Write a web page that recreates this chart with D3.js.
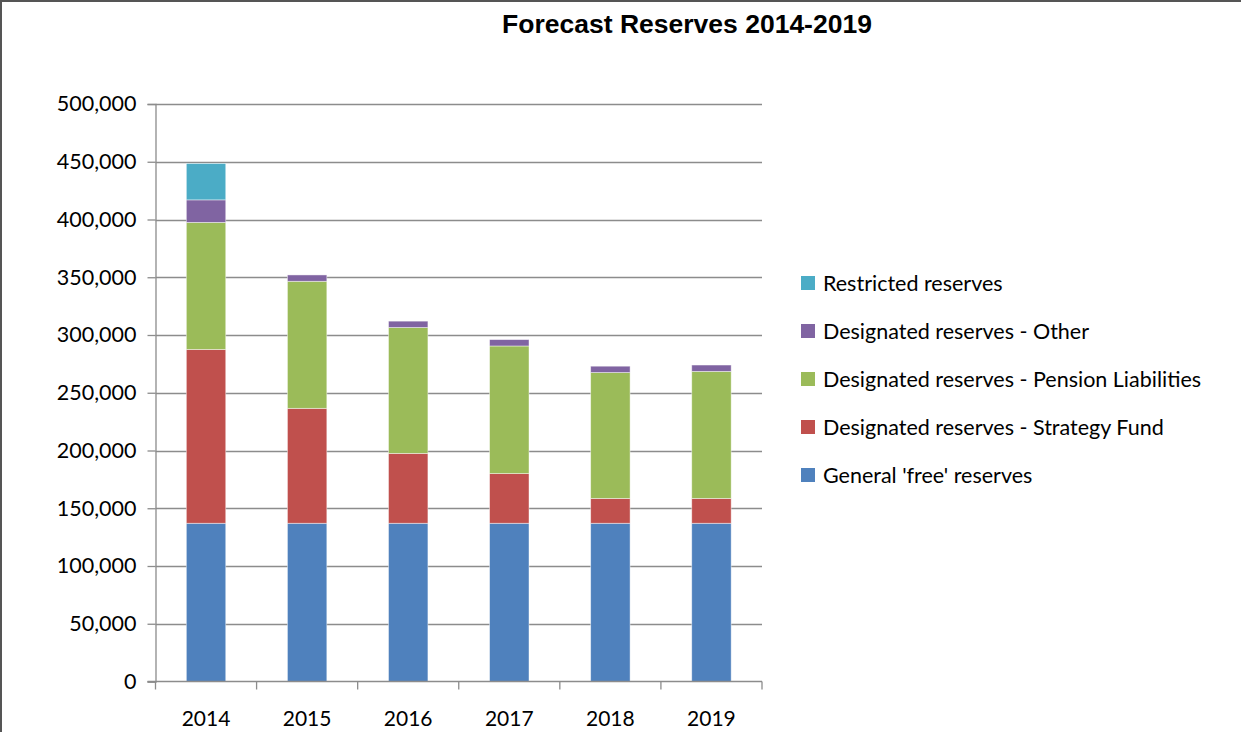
<!DOCTYPE html>
<html>
<head>
<meta charset="utf-8">
<script src="https://cdn.jsdelivr.net/npm/d3@7"></script>
<style>
  html, body { margin: 0; padding: 0; background: #fff; }
  svg { display: block; }
</style>
</head>
<body>
<svg id="chart" width="1241" height="732"></svg>
<script>
// Forecast reserves by year, stacked from the bottom up
const years = ["2014", "2015", "2016", "2017", "2018", "2019"];
const generalFree   = [137000, 137000, 137000, 137000, 137000, 137000];
const strategyFund  = [150500,  99500,  60500,  43000,  21500,  21500];
const pensionLiab   = [110000, 110000, 109000, 110500, 109000, 110000];
const otherDesig    = [ 19500,   5500,   5500,   5500,   5500,   5500];
const restricted    = [ 31500,      0,      0,      0,      0,      0];

const seriesNames = [
  "General 'free' reserves",
  "Designated reserves - Strategy Fund",
  "Designated reserves - Pension Liabilities",
  "Designated reserves - Other",
  "Restricted reserves"
];
const seriesColors = ["#4F81BD", "#C0504D", "#9BBB59", "#8064A2", "#4BACC6"];
const yTicks = [0, 50000, 100000, 150000, 200000, 250000, 300000, 350000, 400000, 450000, 500000];

const rows = years.map((y, i) => ({
  year: y,
  s0: generalFree[i],
  s1: strategyFund[i],
  s2: pensionLiab[i],
  s3: otherDesig[i],
  s4: restricted[i]
}));
const keys = ["s0", "s1", "s2", "s3", "s4"];
const stacked = d3.stack().keys(keys)(rows);

const svg = d3.select("#chart");
const W = 1241, H = 732;
const plot = { left: 155.5, right: 762, top: 104, bottom: 681.5 };

const font = "Lato, 'Open Sans', sans-serif";
const labelSize = 21.5;

// outer frame
svg.append("path")
  .attr("d", `M1,${H} V1 H${W}`)
  .attr("fill", "none")
  .attr("stroke", "#555")
  .attr("stroke-width", 2);

// title
svg.append("text")
  .attr("x", 687)
  .attr("y", 33)
  .attr("text-anchor", "middle")
  .attr("font-family", "'Liberation Sans', Arial, sans-serif")
  .attr("font-weight", "bold")
  .attr("font-size", 26.5)
  .attr("fill", "#000")
  .text("Forecast Reserves 2014-2019");

const x = d3.scaleBand().domain(years).range([plot.left, plot.right]).paddingInner(0.61).paddingOuter(0.305);
const y = d3.scaleLinear().domain([0, 500000]).range([plot.bottom, plot.top]);

// horizontal gridlines
svg.append("g")
  .selectAll("line")
  .data(yTicks.filter(t => t > 0))
  .join("line")
  .attr("x1", plot.left)
  .attr("x2", plot.right)
  .attr("y1", d => Math.round(y(d)) + 0.5)
  .attr("y2", d => Math.round(y(d)) + 0.5)
  .attr("stroke", "#8c8c8c")
  .attr("stroke-width", 1.3);

// bars
svg.append("g")
  .selectAll("g")
  .data(stacked)
  .join("g")
  .attr("fill", (d, i) => seriesColors[i])
  .selectAll("rect")
  .data(d => d.filter(p => p[1] > p[0]))
  .join("rect")
  .attr("x", d => x(d.data.year))
  .attr("width", x.bandwidth())
  .attr("y", d => y(d[1]))
  .attr("height", d => y(d[0]) - y(d[1]))
  .attr("stroke", "rgba(255,255,255,0.55)")
  .attr("stroke-width", 0.8);

// y axis
const yAxis = d3.axisLeft(y)
  .tickValues(yTicks)
  .tickSize(8)
  .tickPadding(11)
  .tickFormat(d3.format(","));
const gy = svg.append("g")
  .attr("transform", `translate(${plot.left},0)`)
  .call(yAxis);
gy.select(".domain").attr("stroke", "#8c8c8c").attr("stroke-width", 1.3);
gy.selectAll(".tick line").attr("stroke", "#8c8c8c").attr("stroke-width", 1.3);
gy.selectAll(".tick text")
  .attr("font-family", font)
  .attr("font-size", labelSize)
  .attr("fill", "#000");

// x axis: ticks sit on the category boundaries
const gx = svg.append("g")
  .attr("transform", `translate(0,${plot.bottom})`);
gx.append("line")
  .attr("x1", plot.left - 8).attr("x2", plot.right)
  .attr("y1", 0).attr("y2", 0)
  .attr("stroke", "#8c8c8c").attr("stroke-width", 1.3);
const bounds = d3.range(years.length + 1).map(i => plot.left + i * (plot.right - plot.left) / years.length);
gx.selectAll("line.tk")
  .data(bounds)
  .join("line")
  .attr("class", "tk")
  .attr("x1", d => d).attr("x2", d => d)
  .attr("y1", 0).attr("y2", 8)
  .attr("stroke", "#8c8c8c").attr("stroke-width", 1.3);
gx.selectAll("text")
  .data(years)
  .join("text")
  .attr("x", d => x(d) + x.bandwidth() / 2)
  .attr("y", 44)
  .attr("text-anchor", "middle")
  .attr("font-family", font)
  .attr("font-size", 21)
  .attr("fill", "#000")
  .text(d => d);

// legend, top entry is the top of the stack
const legendOrder = [4, 3, 2, 1, 0];
const lg = svg.append("g");
legendOrder.forEach((si, row) => {
  const cy = 283 + row * 48;
  lg.append("rect")
    .attr("x", 801).attr("y", cy - 7)
    .attr("width", 14).attr("height", 14)
    .attr("fill", seriesColors[si]);
  lg.append("text")
    .attr("x", 823).attr("y", cy + 7.5)
    .attr("font-family", font)
    .attr("font-size", labelSize)
    .attr("fill", "#000")
    .text(seriesNames[si]);
});
</script>
</body>
</html>
